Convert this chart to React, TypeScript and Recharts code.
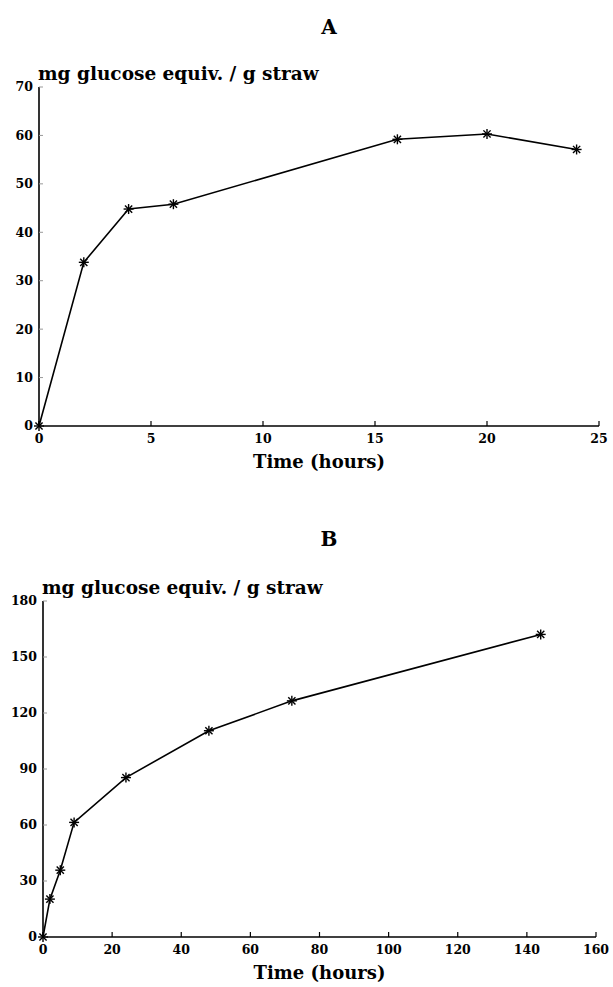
import { LineChart, Line, XAxis, YAxis } from "recharts";

// panel A: short run, 0-24 h
const hoursA = [0, 2, 4, 6, 16, 20, 24];
const sugarA = [0, 33.8, 44.8, 45.8, 59.2, 60.3, 57.1];
const xTicksA = [0, 5, 10, 15, 20, 25];
const yTicksA = [0, 10, 20, 30, 40, 50, 60, 70];

// panel B: long run, 0-144 h
const hoursB = [0, 2, 5, 9, 24, 48, 72, 144];
const sugarB = [0, 20.3, 35.8, 61.4, 85.4, 110.5, 126.5, 162.1];
const xTicksB = [0, 20, 40, 60, 80, 100, 120, 140, 160];
const yTicksB = [0, 30, 60, 90, 120, 150, 180];

const yLabel = "mg glucose equiv. / g straw";
const xLabel = "Time (hours)";

const FONT = "'DejaVu Serif', serif";

const Star = (props: any) => {
  const { cx, cy } = props;
  if (cx == null || cy == null) return null;
  const r = 5;
  const d = r * 0.72;
  return (
    <g stroke="#000" strokeWidth={1.4}>
      <line x1={cx} y1={cy - r} x2={cx} y2={cy + r} />
      <line x1={cx - r} y1={cy} x2={cx + r} y2={cy} />
      <line x1={cx - d} y1={cy - d} x2={cx + d} y2={cy + d} />
      <line x1={cx - d} y1={cy + d} x2={cx + d} y2={cy - d} />
    </g>
  );
};

// horizontal unit label sitting above the top of the y axis
const TopLabel = ({ viewBox }: any) => {
  if (!viewBox) return null;
  return (
    <text
      x={viewBox.x + viewBox.width - 1}
      y={viewBox.y - 7}
      fontFamily={FONT}
      fontWeight="bold"
      fontSize={18.5}
      fill="#000"
    >
      {yLabel}
    </text>
  );
};

function Panel({
  hours,
  sugar,
  xTicks,
  yTicks,
  top,
  height,
  margin,
  yWidth,
}: {
  hours: number[];
  sugar: number[];
  xTicks: number[];
  yTicks: number[];
  top: number;
  height: number;
  margin: { top: number; right: number; bottom: number; left: number };
  yWidth: number;
}) {
  const rows = hours.map((h, i) => ({ h, v: sugar[i] }));
  const tickStyle = {
    fontFamily: FONT,
    fontWeight: "bold" as const,
    fontSize: 12.5,
    fill: "#000",
  };
  return (
    <div style={{ position: "absolute", left: 0, top }}>
      <LineChart width={613} height={height} data={rows} margin={margin}>
        <XAxis
          dataKey="h"
          type="number"
          domain={[xTicks[0], xTicks[xTicks.length - 1]]}
          ticks={xTicks}
          interval={0}
          height={42}
          axisLine={{ stroke: "#000", strokeWidth: 1.6 }}
          tickLine={{ stroke: "#000", strokeWidth: 1.2 }}
          tickSize={-5}
          tickMargin={13}
          tick={tickStyle}
          label={{
            value: xLabel,
            position: "insideBottom",
            offset: 0,
            style: {
              fontFamily: FONT,
              fontWeight: "bold",
              fontSize: 18,
              fill: "#000",
            },
          }}
        />
        <YAxis
          type="number"
          domain={[yTicks[0], yTicks[yTicks.length - 1]]}
          ticks={yTicks}
          interval={0}
          width={yWidth}
          axisLine={{ stroke: "#000", strokeWidth: 1.6 }}
          tickLine={{ stroke: "#999", strokeWidth: 1 }}
          tickSize={-4}
          tickMargin={10}
          tick={tickStyle}
          label={<TopLabel />}
        />
        <Line
          dataKey="v"
          type="linear"
          stroke="#000"
          strokeWidth={1.6}
          dot={<Star />}
          activeDot={false}
          isAnimationActive={false}
        />
      </LineChart>
    </div>
  );
}

export default function App() {
  const title = {
    position: "absolute" as const,
    left: 0,
    width: 658,
    textAlign: "center" as const,
    fontFamily: FONT,
    fontWeight: "bold" as const,
    fontSize: 20,
    color: "#000",
  };
  return (
    <div
      style={{
        position: "absolute",
        left: 0,
        top: 0,
        width: 613,
        height: 987,
        background: "#fff",
      }}
    >
      <div style={{ ...title, top: 15 }}>A</div>
      <div style={{ ...title, top: 527 }}>B</div>
      <Panel
        hours={hoursA}
        sugar={sugarA}
        xTicks={xTicksA}
        yTicks={yTicksA}
        top={0}
        height={490}
        margin={{ top: 87, right: 14, bottom: 22, left: 9 }}
        yWidth={30}
      />
      <Panel
        hours={hoursB}
        sugar={sugarB}
        xTicks={xTicksB}
        yTicks={yTicksB}
        top={500}
        height={487}
        margin={{ top: 101, right: 17, bottom: 8, left: 9 }}
        yWidth={34}
      />
    </div>
  );
}
